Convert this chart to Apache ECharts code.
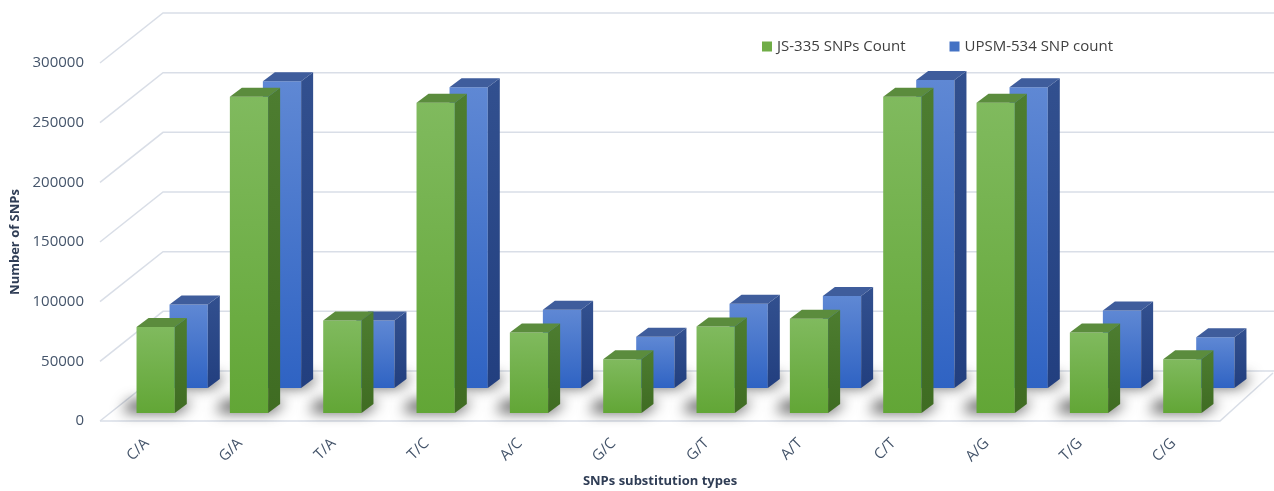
<!DOCTYPE html>
<html>
<head>
<meta charset="utf-8">
<script src="https://cdn.jsdelivr.net/npm/echarts@6/dist/echarts.min.js"></script>
<style>
  html, body { margin: 0; padding: 0; background: #ffffff; }
  #chart { width: 1274px; height: 491px; }
</style>
</head>
<body>
<div id="chart"></div>
<script>
// SNP substitution counts for the two genotypes
const categories = ['C/A', 'G/A', 'T/A', 'T/C', 'A/C', 'G/C', 'G/T', 'A/T', 'C/T', 'A/G', 'T/G', 'C/G'];
const js335 = [72000, 265000, 77500, 260000, 67500, 45000, 72500, 79000, 265000, 260000, 67500, 45000];
const upsm534 = [70000, 257000, 56500, 252000, 65500, 43000, 70500, 77000, 258000, 252000, 65000, 42500];
const yTicks = [0, 50000, 100000, 150000, 200000, 250000, 300000];

// pseudo-3D geometry (pixels)
const WALL = { dxL: 63, dxR: 53, dy: -50 };   // depth of floor / side wall
const BAR_DEPTH = { dx: 12, dy: -9 };          // thickness of each column
const ROW_FRONT = { dx: 9, dy: -8 };           // front row (JS-335)
const ROW_BACK = { dx: 42, dy: -33 };          // back row (UPSM-534)
const BAR_FRAC = 0.41;
const GRID_COLOR = '#d9dee7';
const SHADOW_SHIFT = 3000;                     // draw shadow casters off-canvas, keep only the blur

const G = echarts.graphic;

function faceColors(kind) {
  if (kind === 'green') {
    return {
      front: new G.LinearGradient(0, 0, 0, 1, [
        { offset: 0, color: '#80ba5e' }, { offset: 1, color: '#62a636' }]),
      side: new G.LinearGradient(0, 0, 0, 1, [
        { offset: 0, color: '#4d7d30' }, { offset: 1, color: '#3f6c22' }]),
      top: '#5b8c3d'
    };
  }
  return {
    front: new G.LinearGradient(0, 0, 0, 1, [
      { offset: 0, color: '#5f88d4' }, { offset: 1, color: '#2f63c3' }]),
    side: new G.LinearGradient(0, 0, 0, 1, [
      { offset: 0, color: '#32508f' }, { offset: 1, color: '#223f7f' }]),
    top: '#3f5d9c'
  };
}

function barGeom(api, idx, val, row) {
  const base = api.coord([idx, 0]);
  const top = api.coord([idx, val]);
  const bw = api.size([1, 0])[0];
  const w = bw * BAR_FRAC;
  const x0 = base[0] - w / 2 + row.dx;
  const x1 = x0 + w;
  const yb = base[1] + row.dy;
  const yt = top[1] + row.dy;
  return { x0, x1, yb, yt };
}

function makeBarRenderer(row, kind) {
  const c = faceColors(kind);
  return function (params, api) {
    const g = barGeom(api, api.value(0), api.value(1), row);
    const dx = BAR_DEPTH.dx, dy = BAR_DEPTH.dy;
    return {
      type: 'group',
      children: [
        { type: 'polygon', shape: { points: [[g.x0, g.yt], [g.x1, g.yt], [g.x1, g.yb], [g.x0, g.yb]] },
          style: { fill: c.front } },
        { type: 'polygon', shape: { points: [[g.x1, g.yt], [g.x1 + dx, g.yt + dy], [g.x1 + dx, g.yb + dy], [g.x1, g.yb]] },
          style: { fill: c.side } },
        { type: 'polygon', shape: { points: [[g.x0, g.yt], [g.x1, g.yt], [g.x1 + dx, g.yt + dy], [g.x0 + dx, g.yt + dy]] },
          style: { fill: c.top } }
      ]
    };
  };
}

// soft shadows on the floor around the foot of each column
function renderShadow(params, api) {
  const idx = api.value(0);
  const children = [];
  [[ROW_BACK, api.value(2)], [ROW_FRONT, api.value(1)]].forEach(function (r) {
    const g = barGeom(api, idx, 0, r[0]);
    const dx = BAR_DEPTH.dx, dy = BAR_DEPTH.dy;
    const s = SHADOW_SHIFT;
    children.push({
      type: 'polygon',
      shape: { points: [
        [g.x0 - 14 - s, g.yb - 1], [g.x1 + 4 - s, g.yb - 1],
        [g.x1 + dx + 6 - s, g.yb + dy - 3], [g.x0 + dx - 18 - s, g.yb + dy - 3]] },
      style: { fill: '#000', shadowBlur: 14, shadowColor: 'rgba(0,0,0,0.72)', shadowOffsetX: s }
    });
  });
  return { type: 'group', children: children };
}

// side wall, back wall and floor outlines
function renderWalls(params, api) {
  const v = api.value(1);
  const bw = api.size([1, 0])[0];
  const p0 = api.coord([0, v]);
  const pN = api.coord([categories.length - 1, v]);
  const left = p0[0] - bw / 2;
  const right = pN[0] + bw / 2;
  const y = p0[1];
  const lineStyle = { stroke: GRID_COLOR, lineWidth: 1.5, fill: null };
  const children = [
    { type: 'polyline', shape: { points: [[left, y], [left + WALL.dxL, y + WALL.dy], [1274, y + WALL.dy]] }, style: lineStyle }
  ];
  if (v === 0) {
    children.push({ type: 'polyline',
      shape: { points: [[left, y], [right, y], [right + WALL.dxR, y + WALL.dy + 2]] }, style: lineStyle });
  }
  return { type: 'group', children: children };
}

const chart = echarts.init(document.getElementById('chart'), null, { renderer: 'canvas' });

const textColor = '#44546a';
const titleColor = '#2f3d55';
const fontFamily = '"Open Sans", "Noto Sans", sans-serif';

chart.setOption({
  animation: false,
  backgroundColor: '#ffffff',
  textStyle: { fontFamily: fontFamily },
  grid: { left: 100, right: 54, top: 63, bottom: 70, containLabel: false, outerBoundsMode: 'none' },
  legend: {
    data: ['JS-335 SNPs Count', 'UPSM-534 SNP count'],
    left: 757, top: 34,
    icon: 'rect', itemWidth: 10, itemHeight: 10, itemGap: 44,
    textStyle: { color: '#404040', fontSize: 15, fontFamily: fontFamily }
  },
  xAxis: {
    type: 'category',
    data: categories,
    name: 'SNPs substitution types',
    nameLocation: 'middle',
    nameGap: 54,
    nameTextStyle: { color: titleColor, fontSize: 13, fontWeight: 'bold', fontFamily: fontFamily },
    axisLine: { show: false },
    axisTick: { show: false },
    axisLabel: { rotate: 45, margin: 20, color: textColor, fontSize: 15, fontFamily: fontFamily, interval: 0 },
    splitLine: { show: false }
  },
  yAxis: {
    type: 'value',
    min: 0, max: 300000, interval: 50000,
    name: 'Number of SNPs',
    nameLocation: 'middle',
    nameGap: 72,
    nameRotate: 90,
    nameTextStyle: { color: titleColor, fontSize: 13, fontWeight: 'bold', fontFamily: fontFamily },
    axisLine: { show: false },
    axisTick: { show: false },
    axisLabel: { margin: 16, color: textColor, fontSize: 15, fontFamily: fontFamily,
      formatter: function (v) { return String(v); } },
    splitLine: { show: false }
  },
  series: [
    {
      type: 'custom', name: 'walls', z: 0, silent: true,
      renderItem: renderWalls,
      data: yTicks.map(function (v) { return [0, v]; })
    },
    {
      type: 'custom', name: 'shadows', z: 1, silent: true,
      renderItem: renderShadow,
      data: categories.map(function (c, i) { return [i, js335[i], upsm534[i]]; })
    },
    {
      type: 'custom', name: 'UPSM-534 SNP count', z: 2,
      itemStyle: { color: '#4472c4' },
      renderItem: makeBarRenderer(ROW_BACK, 'blue'),
      data: upsm534.map(function (v, i) { return [i, v]; })
    },
    {
      type: 'custom', name: 'JS-335 SNPs Count', z: 3,
      itemStyle: { color: '#70ad47' },
      renderItem: makeBarRenderer(ROW_FRONT, 'green'),
      data: js335.map(function (v, i) { return [i, v]; })
    }
  ]
});
</script>
</body>
</html>
